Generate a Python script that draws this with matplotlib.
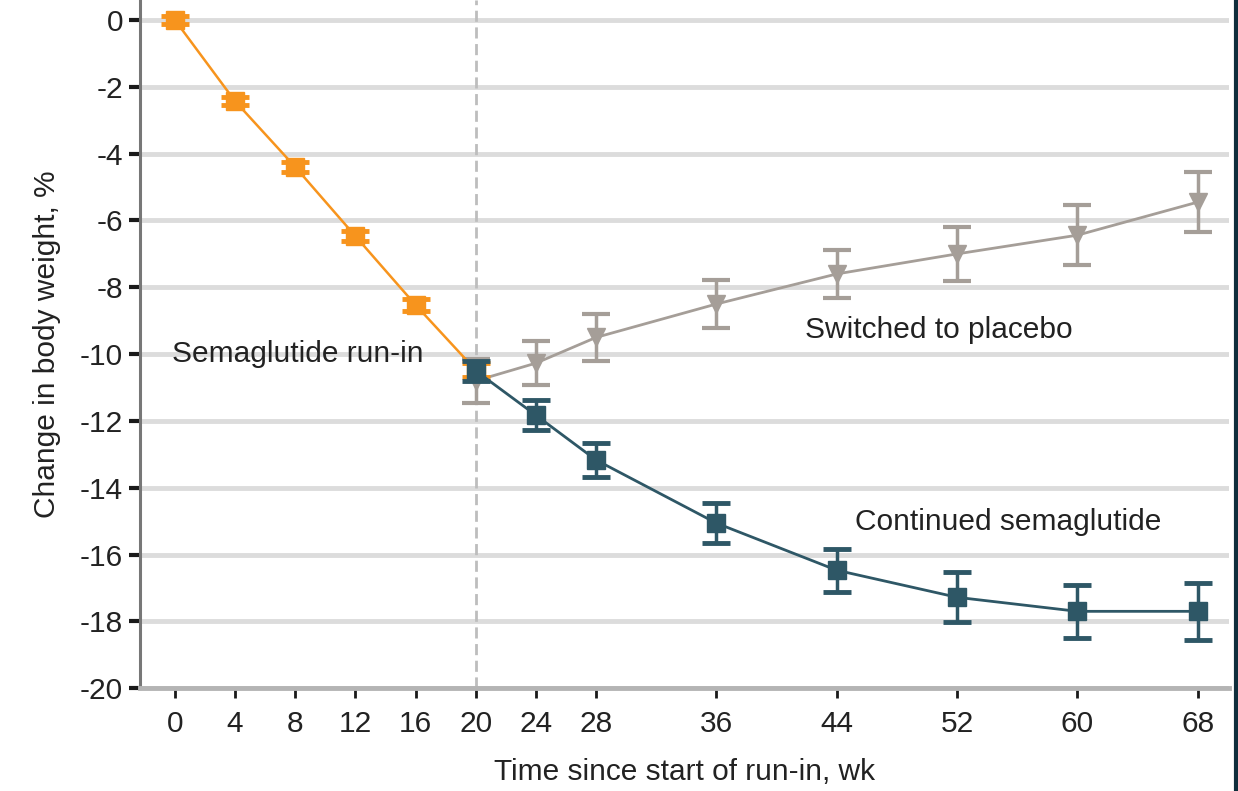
import matplotlib
matplotlib.use("Agg")
import matplotlib.pyplot as plt
from matplotlib import font_manager

# data
runin_wk = [0, 4, 8, 12, 16, 20]
runin_pct = [0.0, -2.43, -4.4, -6.47, -8.53, -10.48]
runin_err = [0.12, 0.12, 0.15, 0.15, 0.18, 0.2]

cont_wk = [20, 24, 28, 36, 44, 52, 60, 68]
cont_pct = [-10.5, -11.83, -13.17, -15.06, -16.47, -17.28, -17.7, -17.7]
cont_err = [0.3, 0.45, 0.5, 0.6, 0.65, 0.75, 0.8, 0.85]

plac_wk = [20, 24, 28, 36, 44, 52, 60, 68]
plac_pct = [-10.8, -10.27, -9.5, -8.5, -7.6, -7.0, -6.44, -5.45]
plac_err = [0.65, 0.65, 0.7, 0.72, 0.72, 0.8, 0.9, 0.9]

xticks = [0, 4, 8, 12, 16, 20, 24, 28, 36, 44, 52, 60, 68]
yticks = list(range(0, -21, -2))

ORANGE = "#F7941D"
TEAL = "#2E5766"
GRAY = "#A59E98"
TXT = "#222222"
FS = 21.5

names = {f.name for f in font_manager.fontManager.ttflist}
fam = "Liberation Sans Narrow" if "Liberation Sans Narrow" in names else "Liberation Sans"
plt.rcParams["font.family"] = [fam, "DejaVu Sans"]

fig = plt.figure(figsize=(12.38, 7.91), dpi=100)
ax = fig.add_axes([0.113, 0.130, 0.880, 0.870])

# grid
for y in yticks:
    ax.axhline(y, color="#DCDCDC", lw=3.5, zorder=0)
ax.axvline(20, color="#BDBDBD", lw=2, ls=(0, (4, 2)), zorder=1)

# series
ax.errorbar(plac_wk, plac_pct, yerr=plac_err, color=GRAY, marker="v", ms=13,
            lw=2, elinewidth=2.5, capsize=10, capthick=3, zorder=3)
ax.errorbar(runin_wk, runin_pct, yerr=runin_err, color=ORANGE, marker="s", ms=13,
            lw=1.8, elinewidth=2.5, capsize=10, capthick=3.5, zorder=4)
ax.errorbar(cont_wk, cont_pct, yerr=cont_err, color=TEAL, marker="s", ms=13,
            lw=2, elinewidth=2.5, capsize=10, capthick=3.5, zorder=5)

# annotations
ax.text(-0.2, -10.0, "Semaglutide run-in", fontsize=FS, color=TXT, va="center", ha="left")
ax.text(41.9, -9.28, "Switched to placebo", fontsize=FS, color=TXT, va="center", ha="left")
ax.text(45.2, -15.03, "Continued semaglutide", fontsize=FS, color=TXT, va="center", ha="left")

ax.set_xlim(-2.33, 70.1)
ax.set_ylim(-20, 0.6)
ax.set_xticks(xticks)
ax.set_yticks(yticks)
ax.set_yticklabels([str(v) for v in yticks])
ax.tick_params(axis="y", length=8, width=3, color="#1a1a1a", labelsize=FS,
               labelcolor=TXT, pad=4)
ax.tick_params(axis="x", length=7, width=2, color="#1a1a1a", labelsize=FS,
               labelcolor=TXT, pad=9)

for s in ["top", "right"]:
    ax.spines[s].set_visible(False)
ax.spines["left"].set_color("#777777")
ax.spines["left"].set_linewidth(2.2)
ax.spines["bottom"].set_color("#B4B4B4")
ax.spines["bottom"].set_linewidth(3.5)

ax.set_ylabel("Change in body weight, %", fontsize=FS, color=TXT, labelpad=14)
ax.set_xlabel("Time since start of run-in, wk", fontsize=FS, color=TXT, labelpad=14)

# dark frame edge at the right
fig.add_artist(plt.Line2D([0.9985, 0.9985], [0, 1], color="#0F2E3C", lw=3,
                          transform=fig.transFigure))

fig.savefig("out.png", dpi=100)
